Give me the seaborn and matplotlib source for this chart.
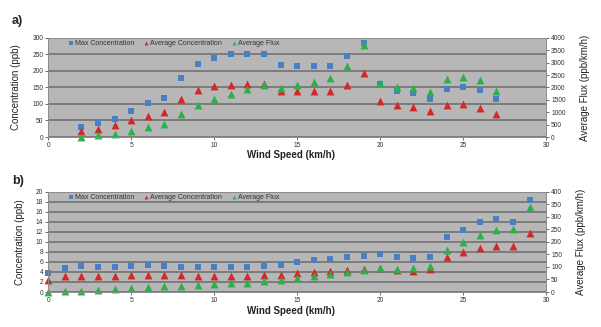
import matplotlib
matplotlib.use("Agg")
import matplotlib.pyplot as plt
import seaborn as sns

sns.set_theme(style="white")
plt.rcParams['font.family'] = ['Liberation Sans', 'DejaVu Sans']

# ---- panel a ----
wind_a = list(range(2, 28))
max_conc_a = [30, 43, 54, 79, 102, 119, 180, 220, 239, 250, 252, 251, 218, 216,
              216, 216, 246, 285, 161, 139, 132, 116, 144, 151, 142, 114]
avg_conc_a = [18, 25, 35, 52, 65, 75, 115, 141, 155, 159, 161, 161, 140, 139,
              139, 140, 159, 194, 110, 97, 90, 79, 98, 99, 87, 69]
avg_flux_a = [10, 68, 136, 244, 393, 515, 922, 1288, 1532, 1749, 1939, 2088, 1966, 2088,
              2237, 2386, 2874, 3702, 2197, 2007, 1993, 1817, 2346, 2441, 2305, 1871]

# ---- panel b ----
wind_b = list(range(0, 30))
max_conc_b = [3.85, 4.8, 5.25, 5.05, 5.05, 5.2, 5.3, 5.25, 5.05, 5.0, 4.9, 5.0, 5.0, 5.1, 5.3,
              6.0, 6.4, 6.65, 6.9, 7.2, 7.5, 7.0, 6.8, 7.0, 10.95, 12.3, 14.0, 14.55, 14.0, 18.4]
avg_conc_b = [2.45, 3.1, 3.25, 3.25, 3.25, 3.4, 3.45, 3.4, 3.3, 3.25, 3.25, 3.25, 3.25, 3.3, 3.45,
              3.85, 4.05, 4.25, 4.45, 4.5, 4.8, 4.45, 4.25, 4.5, 7.0, 7.9, 8.75, 9.2, 9.1, 11.75]
avg_flux_b = [0, 3, 5, 9, 12, 16, 20, 22, 25, 29, 32, 36, 37, 42, 46,
              57, 65, 71, 80, 88, 96, 91, 95, 102, 166, 199, 227, 249, 252, 338]

BLUE = "#4a7fc4"
RED = "#d42828"
GREEN = "#2bb04a"
BG = "#b7b7b7"
GRID = "#6c6c6c"

fig = plt.figure(figsize=(6.01, 3.27), dpi=100)


def draw_panel(rect, wind, maxc, avgc, flux, cmax, cstep, fmax, fstep, tag, tag_y, xlab_y):
    ax = fig.add_axes(rect)
    ax.set_facecolor(BG)
    ax2 = ax.twinx()
    ax2.patch.set_visible(False)
    ax.set_zorder(1)
    ax2.set_zorder(2)

    sns.scatterplot(x=wind, y=maxc, ax=ax, marker="s", color=BLUE, s=19,
                    linewidth=0, label="Max Concentration", legend=False, clip_on=False)
    sns.scatterplot(x=wind, y=avgc, ax=ax, marker="^", color=RED, s=32,
                    linewidth=0, label="Average Concentration", legend=False, clip_on=False)
    sns.scatterplot(x=wind, y=flux, ax=ax2, marker="^", color=GREEN, s=32,
                    linewidth=0, label="Average Flux", legend=False, clip_on=False)

    ax.set_xlim(0, 30)
    ax.set_ylim(0, cmax)
    ax2.set_ylim(0, fmax)
    ax.set_xticks(range(0, 31, 5))
    ax.set_yticks([v for v in range(0, cmax + 1, cstep)])
    ax2.set_yticks([v for v in range(0, fmax + 1, fstep)])
    ax.yaxis.grid(True, color=GRID, linewidth=1.1)
    ax.xaxis.grid(False)
    ax.set_axisbelow(True)

    for a in (ax, ax2):
        a.tick_params(axis="both", labelsize=4.8, length=2, width=0.6,
                      colors="#555555", labelcolor="#333333", pad=1.5)
        for sp in a.spines.values():
            sp.set_color("#8c8c8c")
            sp.set_linewidth(0.6)
    ax.tick_params(axis="y", left=True)
    ax.tick_params(axis="x", bottom=True)
    ax2.tick_params(axis="y", right=True)

    ax.set_xlabel("")
    ax.set_ylabel("Concentration (ppb)", fontsize=7, labelpad=8, color="#222222")
    ax2.set_ylabel("Average Flux (ppb/km/h)", fontsize=7, labelpad=10, color="#222222")

    x_mid = rect[0] + rect[2] / 2 - 0.01
    fig.text(x_mid, xlab_y, "Wind Speed (km/h)", ha="center", va="center",
             fontsize=7, fontweight="bold", color="#222222")
    fig.text(0.02, tag_y, tag, ha="left", va="center", fontsize=9,
             fontweight="bold", color="#222222")

    h1, l1 = ax.get_legend_handles_labels()
    h2, l2 = ax2.get_legend_handles_labels()
    leg = ax2.legend(h1 + h2, l1 + l2, loc="upper left", bbox_to_anchor=(0.03, 1.02),
                     ncol=3, frameon=False, fontsize=5, markerscale=0.5,
                     handletextpad=0.1, columnspacing=1.2, handlelength=1.0,
                     borderaxespad=0.2)
    for t in leg.get_texts():
        t.set_color("#333333")
    return ax, ax2


draw_panel([0.080, 0.581, 0.829, 0.303], wind_a, max_conc_a, avg_conc_a, avg_flux_a,
           300, 50, 4000, 500, "a)", 0.935, 0.527)
draw_panel([0.080, 0.107, 0.829, 0.307], wind_b, max_conc_b, avg_conc_b, avg_flux_b,
           20, 2, 400, 50, "b)", 0.445, 0.048)

fig.savefig("out.png", dpi=100)
